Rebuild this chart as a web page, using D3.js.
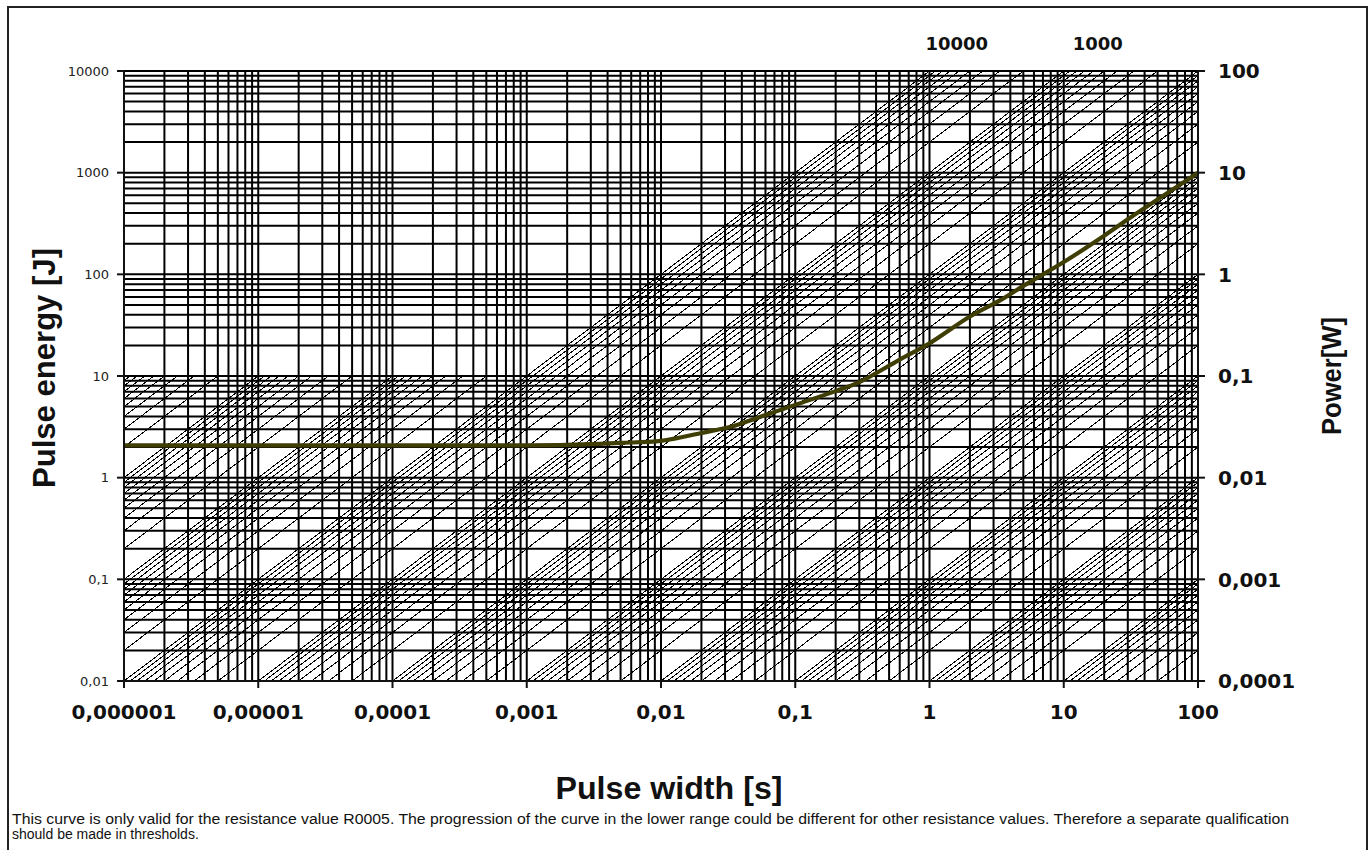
<!DOCTYPE html>
<html>
<head>
<meta charset="utf-8">
<script src="https://cdn.jsdelivr.net/npm/d3@7"></script>
<style>
  html, body { margin: 0; padding: 0; background: #fff; }
  svg { display: block; }
</style>
</head>
<body>
<svg id="chart" width="1371" height="850"></svg>
<script>
// ---------- data ----------
const xDomain = [1e-6, 100];          // pulse width [s]
const yDomain = [0.01, 10000];        // pulse energy [J]
const xDecades = [-6, -5, -4, -3, -2, -1, 0, 1, 2];
const yDecades = [-2, -1, 0, 1, 2, 3, 4];
const gridMultipliers = [1, 2, 3, 4, 5, 6, 7, 8, 9];

const xTickValues = [1e-6, 1e-5, 1e-4, 1e-3, 1e-2, 1e-1, 1, 10, 100];
const xTickLabels = ["0,000001", "0,00001", "0,0001", "0,001", "0,01", "0,1", "1", "10", "100"];
const yTickValues = [0.01, 0.1, 1, 10, 100, 1000, 10000];
const yTickLabels = ["0,01", "0,1", "1", "10", "100", "1000", "10000"];
const powerTickLabels = ["0,0001", "0,001", "0,01", "0,1", "1", "10", "100"]; // right axis at same heights

// constant-power lines E = P * t
const powerDecades = [-4, -3, -2, -1, 0, 1, 2, 3, 4, 5, 6];
const powerMultipliers = [1, 2, 3, 4, 5, 6, 7, 8, 9];
const powerFullLimit = 10000;   // lines up to this power run across the full chart
const energyCapHighPower = 10;  // higher powers only drawn up to this energy

// labelled power lines at the top
const topLabelPowers = [10000, 1000];
const topLabelTexts = ["10000", "1000"];

// pulse load curve
const curveWidth = [1e-6, 1e-5, 1e-4, 1e-3, 0.002, 0.0035, 0.005, 0.01, 0.02, 0.033, 0.05, 0.1, 0.2, 0.3, 0.6, 1, 2, 3.4, 5, 10, 20, 33.6, 50, 100];
const curveEnergy = [2.08, 2.08, 2.08, 2.08, 2.1, 2.15, 2.2, 2.3, 2.75, 3.17, 3.8, 5.2, 7.1, 8.7, 14.5, 21, 38.5, 56, 77, 132, 240, 385, 545, 1000];

const footnote1 = "This curve is only valid for the resistance value R0005. The progression of the curve in the lower range could be different for other resistance values. Therefore a separate qualification";
const footnote2 = "should be made in thresholds.";

// ---------- layout ----------
const svg = d3.select("#chart");
const L = 124, R = 1198, T = 71, B = 681;
const x = d3.scaleLog().domain(xDomain).range([L, R]);
const y = d3.scaleLog().domain(yDomain).range([B, T]);

// frame
svg.append("rect").attr("x", 8).attr("y", 7).attr("width", 1359).attr("height", 880)
  .attr("fill", "none").attr("stroke", "#222").attr("stroke-width", 2);

// ---------- diagonal power lines ----------
const diag = svg.append("g").attr("stroke", "#000").attr("stroke-width", 1)
  .attr("shape-rendering", "crispEdges").attr("fill", "none");
powerDecades.forEach(m => {
  powerMultipliers.forEach(k => {
    const P = k * Math.pow(10, m);
    const eMax = P <= powerFullLimit ? yDomain[1] : energyCapHighPower;
    const t0 = Math.max(xDomain[0], yDomain[0] / P);
    const t1 = Math.min(xDomain[1], eMax / P);
    if (t1 > t0 * 1.0001) {
      diag.append("line")
        .attr("x1", x(t0)).attr("y1", y(P * t0))
        .attr("x2", x(t1)).attr("y2", y(P * t1));
    }
  });
});

// ---------- grid ----------
const grid = svg.append("g").attr("stroke", "#000").attr("stroke-width", 2);
xDecades.forEach(d => gridMultipliers.forEach(k => {
  const v = k * Math.pow(10, d);
  if (v < xDomain[0] || v > xDomain[1]) return;
  grid.append("line").attr("x1", x(v)).attr("x2", x(v)).attr("y1", T).attr("y2", B);
}));
yDecades.forEach(d => gridMultipliers.forEach(k => {
  const v = k * Math.pow(10, d);
  if (v < yDomain[0] || v > yDomain[1]) return;
  grid.append("line").attr("y1", y(v)).attr("y2", y(v)).attr("x1", L).attr("x2", R);
}));

// ---------- curve ----------
const pts = curveWidth.map((t, i) => [x(t), y(curveEnergy[i])]);
svg.append("path")
  .attr("d", d3.line().curve(d3.curveCatmullRom.alpha(0.5))(pts))
  .attr("fill", "none").attr("stroke", "#3f3e05").attr("stroke-width", 4.2)
  .attr("stroke-linejoin", "round");

// ---------- axes ----------
const ax = svg.append("g").attr("stroke", "#111").attr("stroke-width", 2);
ax.append("line").attr("x1", L).attr("x2", L).attr("y1", T).attr("y2", B);
ax.append("line").attr("x1", R).attr("x2", R).attr("y1", T).attr("y2", B);
ax.append("line").attr("x1", L).attr("x2", R).attr("y1", B).attr("y2", B);
yTickValues.forEach(v => {
  ax.append("line").attr("x1", L - 7).attr("x2", L).attr("y1", y(v)).attr("y2", y(v));
  ax.append("line").attr("x1", R).attr("x2", R + 7).attr("y1", y(v)).attr("y2", y(v));
});
xTickValues.forEach(v => {
  ax.append("line").attr("x1", x(v)).attr("x2", x(v)).attr("y1", B).attr("y2", B + 7);
});

// left tick labels
svg.append("g").selectAll("text").data(yTickValues).join("text")
  .attr("x", L - 15).attr("y", d => y(d)).attr("dy", "0.35em")
  .attr("text-anchor", "end")
  .attr("font-family", "DejaVu Sans, sans-serif").attr("font-size", 13)
  .attr("fill", "#222")
  .text((d, i) => yTickLabels[i]);

// right tick labels (power)
svg.append("g").selectAll("text").data(yTickValues).join("text")
  .attr("x", R + 20).attr("y", d => y(d)).attr("dy", "0.36em")
  .attr("text-anchor", "start")
  .attr("font-family", "DejaVu Sans, sans-serif").attr("font-weight", "bold").attr("font-size", 20)
  .attr("fill", "#111")
  .text((d, i) => powerTickLabels[i]);

// bottom tick labels
svg.append("g").selectAll("text").data(xTickValues).join("text")
  .attr("x", d => x(d)).attr("y", B + 38)
  .attr("text-anchor", "middle")
  .attr("font-family", "DejaVu Sans, sans-serif").attr("font-weight", "bold").attr("font-size", 20)
  .attr("fill", "#111")
  .text((d, i) => xTickLabels[i]);

// top labels for power lines
svg.append("g").selectAll("text").data(topLabelPowers).join("text")
  .attr("x", (d, i) => x(yDomain[1] / d) + (i === 0 ? -4 : 9)).attr("y", 50)
  .attr("text-anchor", "start")
  .attr("font-family", "DejaVu Sans, sans-serif").attr("font-weight", "bold").attr("font-size", 18)
  .attr("fill", "#111")
  .text((d, i) => topLabelTexts[i]);

// axis titles
svg.append("text")
  .attr("x", 669).attr("y", 799).attr("text-anchor", "middle")
  .attr("font-family", "Liberation Sans, Arial, sans-serif").attr("font-weight", "bold").attr("font-size", 31)
  .attr("textLength", 227).attr("lengthAdjust", "spacingAndGlyphs")
  .attr("fill", "#111").text("Pulse width [s]");

svg.append("text")
  .attr("transform", "translate(55,368) rotate(-90)").attr("text-anchor", "middle")
  .attr("font-family", "Liberation Sans, Arial, sans-serif").attr("font-weight", "bold").attr("font-size", 31)
  .attr("textLength", 240).attr("lengthAdjust", "spacingAndGlyphs")
  .attr("fill", "#111").text("Pulse energy [J]");

svg.append("text")
  .attr("transform", "translate(1341,376) rotate(-90)").attr("text-anchor", "middle")
  .attr("font-family", "Liberation Sans, Arial, sans-serif").attr("font-weight", "bold").attr("font-size", 28)
  .attr("textLength", 118).attr("lengthAdjust", "spacingAndGlyphs")
  .attr("fill", "#111").text("Power[W]");

// footnote
svg.append("text").attr("x", 12).attr("y", 824)
  .attr("font-family", "Liberation Sans, Arial, sans-serif").attr("font-size", 14)
  .attr("textLength", 1277).attr("lengthAdjust", "spacingAndGlyphs")
  .attr("fill", "#111").text(footnote1);
svg.append("text").attr("x", 12).attr("y", 839)
  .attr("font-family", "Liberation Sans, Arial, sans-serif").attr("font-size", 14)
  .attr("fill", "#111").text(footnote2);
</script>
</body>
</html>
